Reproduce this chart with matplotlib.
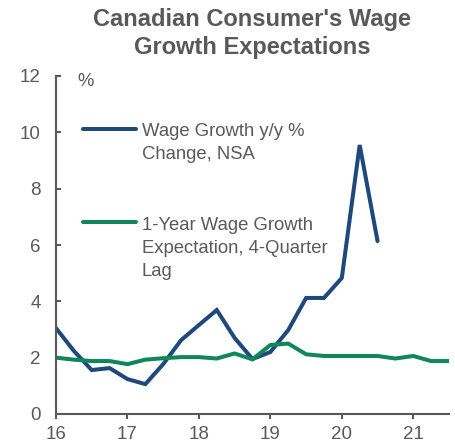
import numpy as np
import matplotlib.pyplot as plt
from matplotlib.legend_handler import HandlerLine2D

plt.rcParams['font.family'] = ['Liberation Sans', 'DejaVu Sans']

# quarterly data, x in years (16 = 2016)
wage_q = [16.0, 16.25, 16.5, 16.75, 17.0, 17.25, 17.5, 17.75, 18.0, 18.25,
          18.5, 18.75, 19.0, 19.25, 19.5, 19.75, 20.0, 20.25, 20.5]
wage = [3.05, 2.24, 1.56, 1.63, 1.24, 1.06, 1.77, 2.62, 3.16, 3.69,
        2.7, 1.95, 2.2, 2.98, 4.12, 4.12, 4.83, 9.55, 6.14]

expect_q = [16.0, 16.25, 16.5, 16.75, 17.0, 17.25, 17.5, 17.75, 18.0, 18.25,
            18.5, 18.75, 19.0, 19.25, 19.5, 19.75, 20.0, 20.25, 20.5, 20.75,
            21.0, 21.25, 21.5]
expect = [2.0, 1.93, 1.88, 1.88, 1.77, 1.93, 1.98, 2.02, 2.02, 1.97,
          2.15, 1.94, 2.45, 2.5, 2.12, 2.06, 2.06, 2.06, 2.06, 1.97,
          2.06, 1.88, 1.88]

gray = '#595959'
blue = '#1F497D'
green = '#10875A'
LS = 1.45  # legend text line spacing


class FirstLineHandler(HandlerLine2D):
    # put the legend line next to the first line of a multi-line label
    def create_artists(self, legend, orig_handle, xdescent, ydescent,
                       width, height, fontsize, trans):
        arts = super().create_artists(legend, orig_handle, xdescent, ydescent,
                                      width, height, fontsize, trans)
        n = orig_handle.get_label().count('\n')
        for a in arts:
            a.set_ydata(np.asarray(a.get_ydata()) + 0.5 * n * LS * fontsize)
        return arts


fig = plt.figure(figsize=(4.56, 4.46), dpi=100)
ax = fig.add_axes([56/456, 32/446, 393/456, 338/446])

ax.plot(wage_q, wage, color=blue, lw=2.9, solid_capstyle='round',
        solid_joinstyle='miter', label='Wage Growth y/y %\nChange, NSA')
ax.plot(expect_q, expect, color=green, lw=2.9, solid_capstyle='butt',
        label='1-Year Wage Growth\nExpectation, 4-Quarter\nLag')

ax.set_xlim(16, 21.5)
ax.set_ylim(0, 12)
ax.set_xticks([16, 17, 18, 19, 20, 21])
ax.set_yticks(np.arange(0, 13, 2))
for s in ['top', 'right']:
    ax.spines[s].set_visible(False)
for s in ['left', 'bottom']:
    ax.spines[s].set_color(gray)
    ax.spines[s].set_linewidth(1.5)
ax.tick_params(colors=gray, labelsize=13.5, width=1.5, length=3.5)
ax.tick_params(axis='y', direction='in', pad=11)
ax.tick_params(axis='x', direction='out', pad=5)

ax.text(0.055, 0.985, '%', transform=ax.transAxes, color=gray,
        fontsize=13.3, va='center')

leg = ax.legend(loc='upper left', bbox_to_anchor=(0.026, 0.911), frameon=False,
                fontsize=13.3, handlelength=2.9, handletextpad=0.3,
                labelspacing=2.95, labelcolor=gray,
                handler_map={plt.Line2D: FirstLineHandler()})
for t in leg.get_texts():
    t.set_linespacing(LS)
for h in leg.legend_handles:
    h.set_solid_capstyle('round')

fig.suptitle("Canadian Consumer's Wage\nGrowth Expectations", x=252/456,
             y=0.982, fontsize=17, fontweight='bold', color=gray,
             linespacing=1.3)

fig.savefig('out.png', dpi=100)
